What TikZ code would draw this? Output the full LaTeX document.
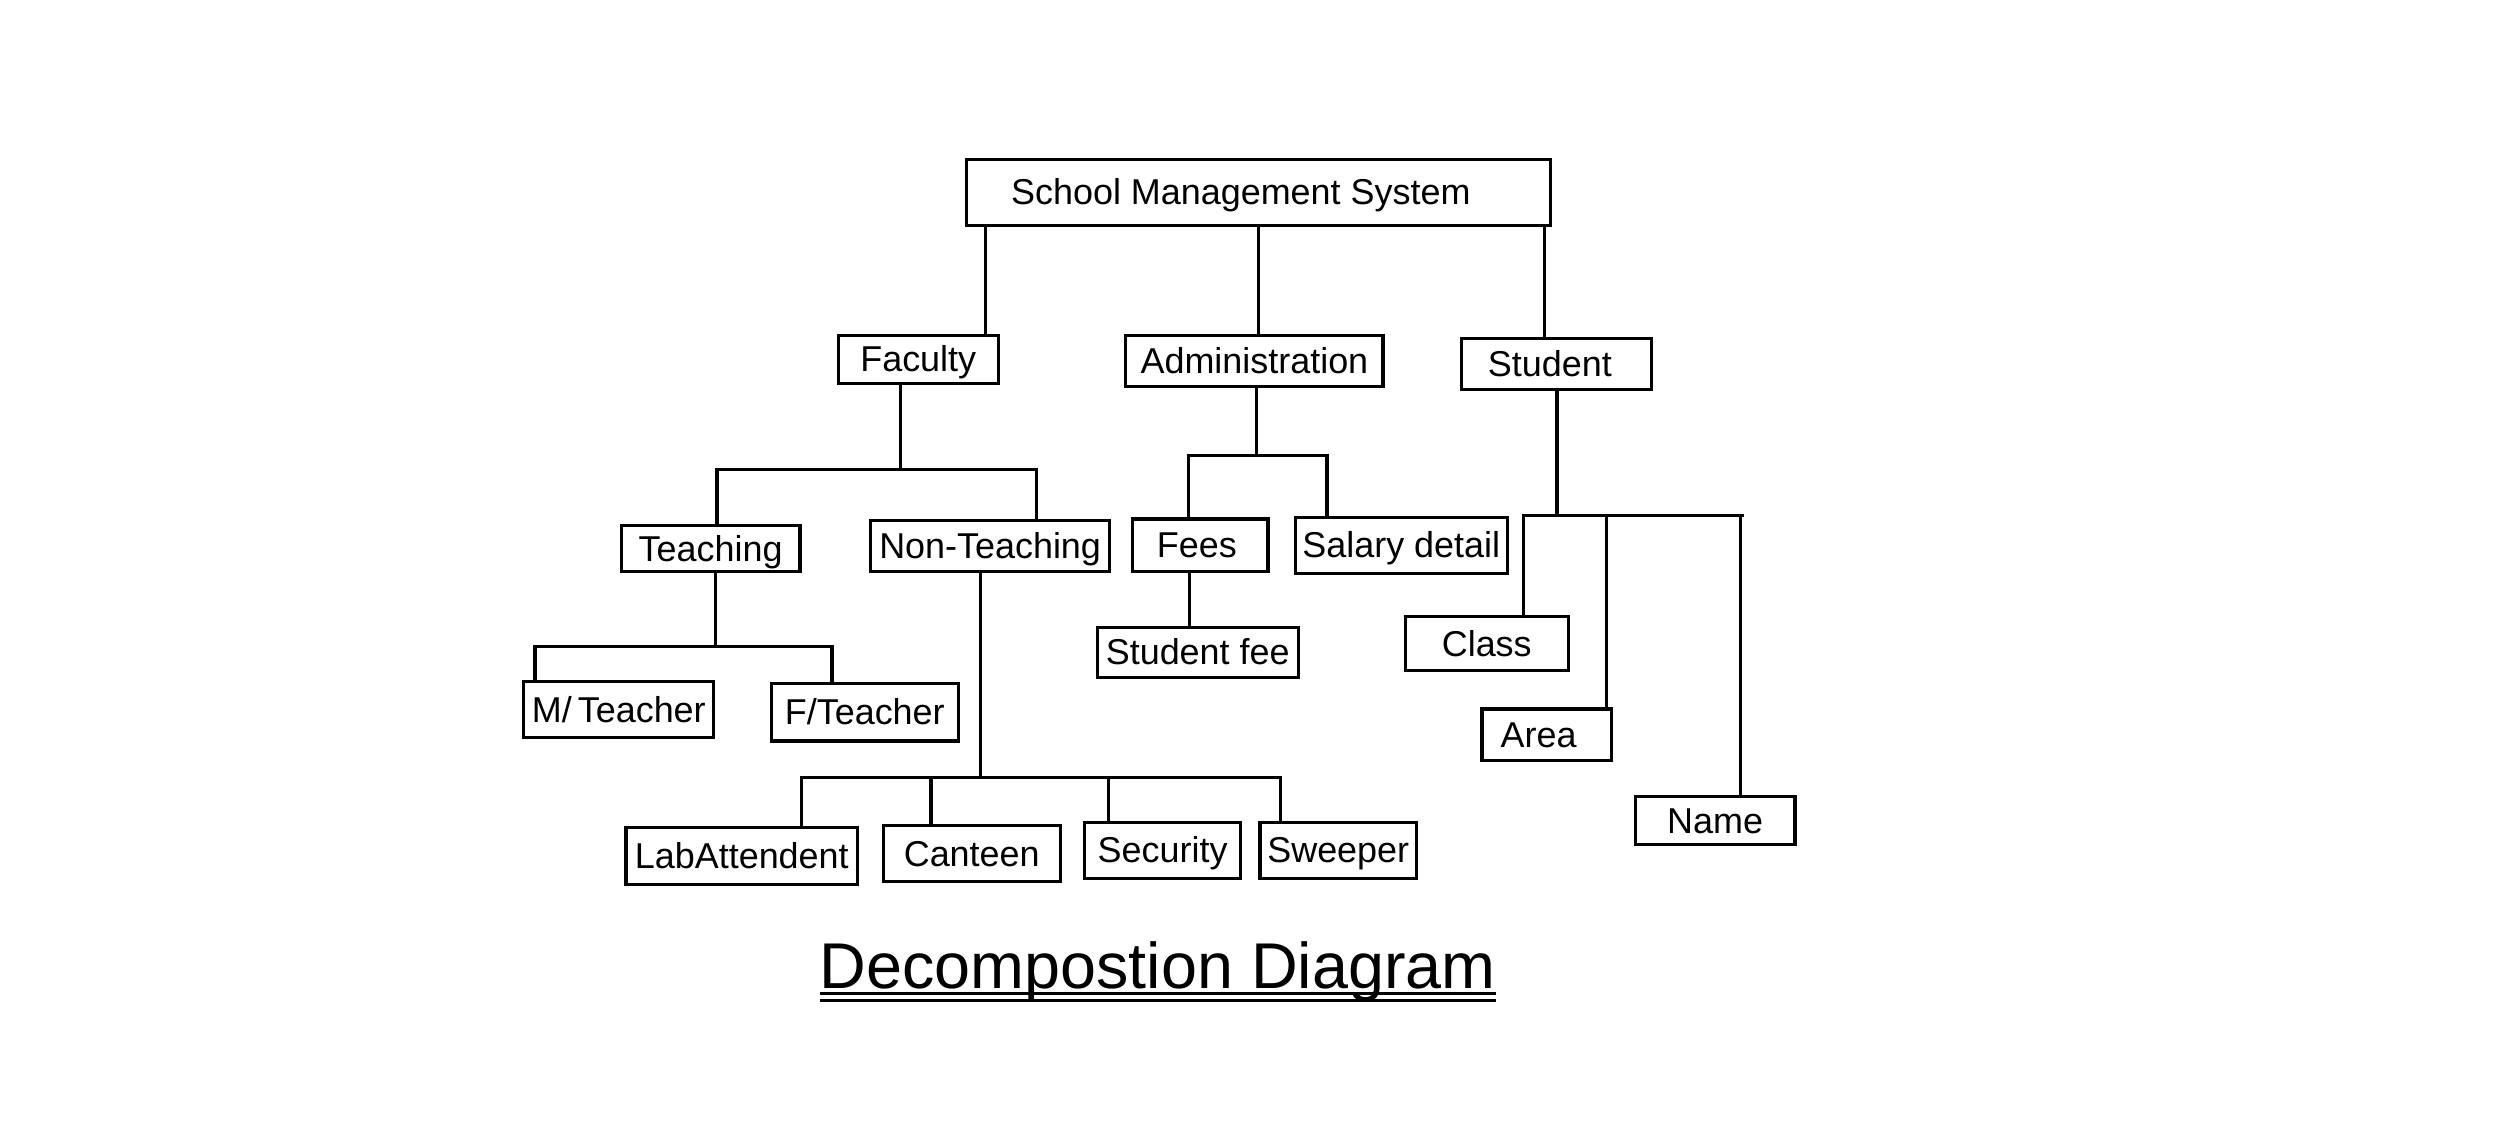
\documentclass[tikz,border=0pt]{standalone}
\usepackage{fontspec}
\setmainfont{Liberation Sans}
\begin{document}
\begin{tikzpicture}[x=1pt,y=-1pt,
  box/.style={draw,line width=2pt,inner sep=0pt,text height=15.6pt,text depth=0pt,font=\fontsize{22.5}{24}\selectfont},
  conn/.style={line width=2pt}]
\useasboundingbox (0,0) rectangle (1568,711.4);
% boxes
\node[box,minimum width=366pt,minimum height=41pt] (sms) at (788,120.5) {School Management System\kern22pt};
\node[box,minimum width=100pt,minimum height=30pt] (fac) at (575,225) {Faculty};
\node[box,minimum width=161pt,minimum height=32pt] (adm) at (785.5,226) {Administration};
\node[box,minimum width=119pt,minimum height=32pt] (stu) at (974.5,228) {Student\kern8pt};
\node[box,minimum width=112pt,minimum height=29pt] (tea) at (445,343.5) {Teaching};
\node[box,minimum width=150pt,minimum height=32pt] (non) at (620,342) {Non-Teaching};
\node[box,minimum width=85pt,minimum height=33pt] (fee) at (751.5,341.5) {Fees\kern4pt};
\node[box,minimum width=133pt,minimum height=35pt] (sal) at (877.5,341.5) {Salary detail};
\node[box,minimum width=126pt,minimum height=31pt] (sfe) at (750,408.5) {Student fee};
\node[box,minimum width=119pt,minimum height=35pt] (mte) at (387.5,444.5) {M/\,Teacher};
\node[box,minimum width=117pt,minimum height=36pt] (fte) at (541.5,446) {F/Teacher};
\node[box,minimum width=145pt,minimum height=36pt] (lab) at (464.5,536) {LabAttendent};
\node[box,minimum width=111pt,minimum height=35pt] (can) at (608.5,534.5) {Canteen};
\node[box,minimum width=98pt,minimum height=35pt] (sec) at (728,532.5) {Security};
\node[box,minimum width=98pt,minimum height=35pt] (swe) at (838,532.5) {Sweeper};
\node[box,minimum width=102pt,minimum height=34pt] (cla) at (931,403) {Class};
\node[box,minimum width=81pt,minimum height=32pt] (are) at (968.5,460) {Area\kern10pt};
\node[box,minimum width=100pt,minimum height=30pt] (nam) at (1074,514) {Name};
% bus coordinates
\coordinate (x1) at (617,0);
\coordinate (x2) at (788,0);
\coordinate (x3) at (967,0);
\coordinate (fb) at (564,294);
\coordinate (fbL) at (449,294);
\coordinate (fbR) at (649,294);
\coordinate (tb) at (448,405);
\coordinate (tbL) at (335,405);
\coordinate (tbR) at (521,405);
\coordinate (nb) at (614,487);
\coordinate (nb1) at (502,487);
\coordinate (nb2) at (583,487);
\coordinate (nb3) at (694,487);
\coordinate (nb4) at (802,487);
\coordinate (ab) at (787,285);
\coordinate (abL) at (744,285);
\coordinate (abR) at (831,285);
\coordinate (x4) at (745,0);
\coordinate (sb) at (975,323);
\coordinate (sb1) at (954,323);
\coordinate (sb2) at (1006,323);
\coordinate (sb3) at (1090,323);
\coordinate (sbE) at (1092,323);
% connectors
\draw[conn] (sms.south -| x1) -- (fac.north -| x1);
\draw[conn] (sms.south -| x2) -- (adm.north -| x2);
\draw[conn] (sms.south -| x3) -- (stu.north -| x3);
\draw[conn] (fac.south -| fb) -- (fb);
\draw[conn] (tea.north -| fbL) -- (fbL) -- (fbR) -- (non.north -| fbR);
\draw[conn] (tea.south -| tb) -- (tb);
\draw[conn] (mte.north -| tbL) -- (tbL) -- (tbR) -- (fte.north -| tbR);
\draw[conn] (non.south -| nb) -- (nb);
\draw[conn] (lab.north -| nb1) -- (nb1) -- (nb4) -- (swe.north -| nb4);
\draw[conn] (nb2) -- (can.north -| nb2);
\draw[conn] (nb3) -- (sec.north -| nb3);
\draw[conn] (adm.south -| ab) -- (ab);
\draw[conn] (fee.north -| abL) -- (abL) -- (abR) -- (sal.north -| abR);
\draw[conn] (fee.south -| x4) -- (sfe.north -| x4);
\draw[conn] (stu.south -| sb) -- (sb);
\draw[conn] (cla.north -| sb1) -- (sb1) -- (sbE);
\draw[conn] (sb2) -- (are.north -| sb2);
\draw[conn] (sb3) -- (nam.north -| sb3);
% title
\node[inner sep=0pt,anchor=base,font=\fontsize{40.5}{44}\selectfont] (title) at (725,619) {Decompostion Diagram};
\draw[line width=1.6pt] ([yshift=-3pt]title.base west) -- ([yshift=-3pt]title.base east);
\draw[line width=1.6pt] ([yshift=-7.5pt]title.base west) -- ([yshift=-7.5pt]title.base east);
\end{tikzpicture}
\end{document}
